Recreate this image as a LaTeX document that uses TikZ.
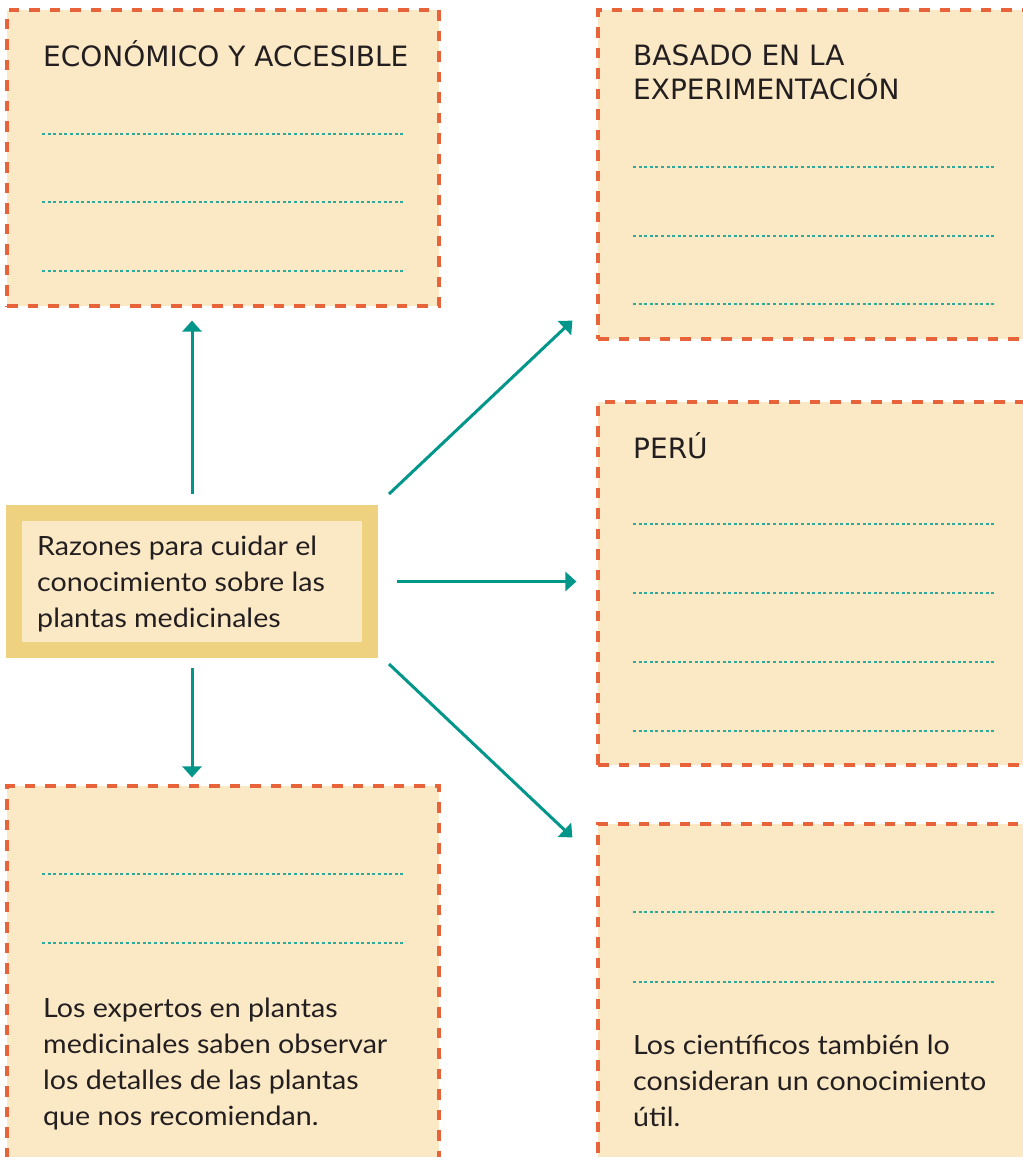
\documentclass[tikz,border=0pt]{standalone}
\usepackage{fontspec}
\setmainfont{Lato}[FakeStretch=1.08]
\newfontfamily\titlefont{DejaVu Sans}
\usetikzlibrary{arrows.meta,calc}
\definecolor{cream}{RGB}{251,232,197}
\definecolor{dashred}{RGB}{232,98,58}
\definecolor{gold}{RGB}{238,210,127}
\definecolor{arrowteal}{RGB}{0,150,138}
\definecolor{ruleteal}{RGB}{43,170,158}
\definecolor{ink}{RGB}{35,31,32}
\tikzset{
	card/.style={draw=dashred, fill=cream, line width=3.2pt, dash pattern=on 10.5pt off 10pt, inner sep=0pt},
	writeline/.style={draw=ruleteal, line width=1.4pt, dash pattern=on 3pt off 2.6pt},
	heading/.style={anchor=base west, inner sep=0pt, align=left, text=ink, font=\titlefont\fontsize{28}{34}\selectfont},
	bodytext/.style={anchor=base west, inner sep=0pt, align=left, text=ink, font=\fontsize{26.5}{35.8}\selectfont},
	link/.style={draw=arrowteal, line width=3pt, -{Triangle[width=19pt,length=11pt]}}
}
\begin{document}
\begin{tikzpicture}[x=1pt,y=-1pt]
			\useasboundingbox (0,0) rectangle (1023,1157);
			\clip (0,0) rectangle (1023,1157);
			\node[card, minimum width=432pt, minimum height=296pt] (econ) at (223,158) {};
			\node[card, minimum width=442pt, minimum height=329pt] (basado) at (819,174.5) {};
			\node[card, minimum width=442pt, minimum height=363pt] (peru) at (819,583.5) {};
			\node[card, minimum width=442pt, minimum height=356pt] (cient) at (819,1002) {};
			\node[card, minimum width=432pt, minimum height=394pt] (expertos) at (223,983) {};
			\node[draw=gold, fill=cream, line width=16pt, minimum width=356pt, minimum height=137pt, inner sep=0pt] (razones) at (192,581.5) {};
			\node[heading] (econtxt) at (43,66) {ECONÓMICO Y ACCESIBLE};
			\node[heading] (basadotxt) at (633,99) {BASADO EN LA\\EXPERIMENTACIÓN};
			\node[heading] (perutxt) at (633,458) {PERÚ};
			\node[bodytext] (razonestxt) at (37,627) {Razones para cuidar el\\conocimiento sobre las\\plantas medicinales};
			\node[bodytext] (expertostxt) at (43,1125) {Los expertos en plantas\\medicinales saben observar\\los detalles de las plantas\\que nos recomiendan.};
			\node[bodytext] (cienttxt) at (633,1126) {Los científicos también lo\\consideran un conocimiento\\útil.};
			\foreach \y in {134,202,271} \draw[writeline] (42,\y) -- (403,\y);
			\foreach \y in {167,236,304} \draw[writeline] (633,\y) -- (994,\y);
			\foreach \y in {524,593,662,731} \draw[writeline] (633,\y) -- (994,\y);
			\foreach \y in {912,982} \draw[writeline] (633,\y) -- (994,\y);
			\foreach \y in {874,943} \draw[writeline] (42,\y) -- (403,\y);
			\draw[link, shorten <=11pt, shorten >=13pt] (razones.north) -- (razones.north |- econ.south);
			\draw[link, shorten <=10pt, shorten >=7pt] (razones.south) -- (razones.south |- expertos.north);
			\draw[link, shorten <=19pt, shorten >=20pt] (razones.east) -- (razones.east -| peru.west);
			\draw[link] ($(razones.north east)+(11,-11)$) -- ($(basado.south west)+(-24,-20)$);
			\draw[link] ($(razones.south east)+(11,6)$) -- ($(cient.north west)+(-24,15)$);
\end{tikzpicture}
\end{document}
